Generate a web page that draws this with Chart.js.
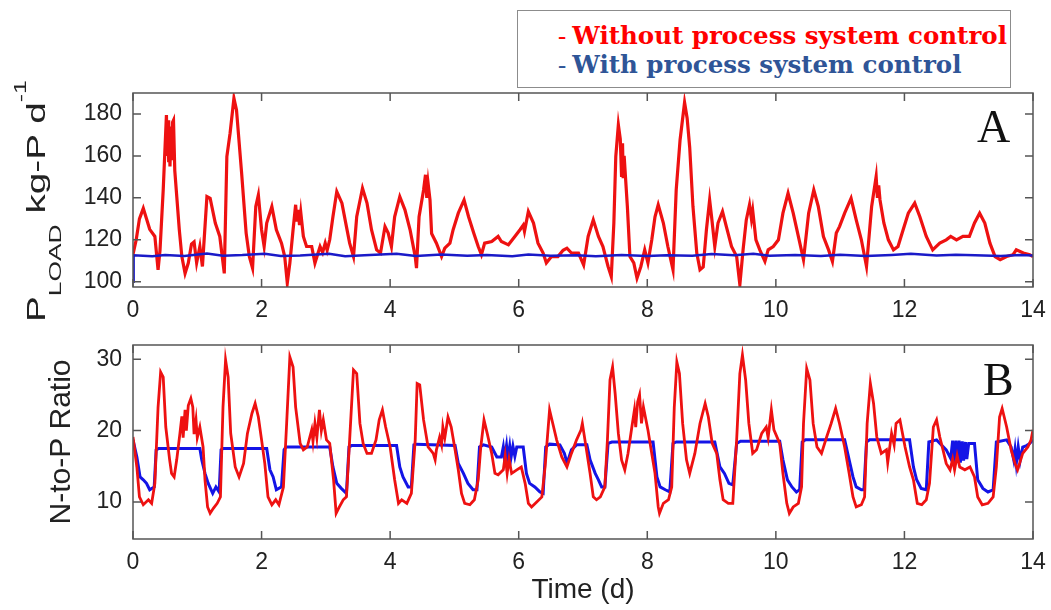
<!DOCTYPE html>
<html>
<head>
<meta charset="utf-8">
<script src="https://cdn.jsdelivr.net/npm/chart.js@4.4.1/dist/chart.umd.min.js"></script>
<style>
    body { margin: 0; background: #fff; }
    #page { position: relative; width: 1051px; height: 610px; overflow: hidden; font-family: "Liberation Sans", Arial, sans-serif; }
    canvas { position: absolute; left: 0; }
    #chartA { top: 80px; }
    #chartB { top: 330px; }
    #legend {
        position: absolute; left: 517px; top: 10px; width: 494px; height: 78px;
        border: 1.5px solid #8c8c8c; background: #fff; z-index: 5;
        font-family: "DejaVu Serif", serif; font-weight: bold; font-size: 24.5px;
        line-height: 28.5px; padding: 11px 0 0 40px; box-sizing: border-box; white-space: nowrap;
    }
    #legend .dash { font-weight: normal; font-family: "Liberation Serif", serif; }
    #legend .red { color: #ff0000; }
    #legend .blue { color: #2f5597; }
    #ylabA {
        position: absolute; left: 21px; top: 322px; white-space: nowrap;
        font-size: 25px; line-height: 30px; color: #222;
        transform-origin: 0 0; transform: rotate(-90deg) scaleX(1.55);
    }
    #ylabA sub { font-size: 17px; vertical-align: baseline; position: relative; top: 16px; }
    #ylabA sup { font-size: 16px; vertical-align: baseline; position: relative; top: -19px; }
    .panelTag { position: absolute; font-family: "Liberation Serif", serif; font-size: 46px; line-height: 46px; color: #111; }
</style>
</head>
<body>
<div id="page">
    <canvas id="chartA" width="1051" height="240"></canvas>
    <canvas id="chartB" width="1051" height="280"></canvas>
    <div id="legend">
        <div class="red"><span class="dash">- </span>Without process system control</div>
        <div class="blue"><span class="dash">- </span>With process system control</div>
    </div>
    <div id="ylabA">P<sub>LOAD</sub> kg-P d<sup>-1</sup></div>
    <div class="panelTag" style="left:977px; top:104px;">A</div>
    <div class="panelTag" style="left:983px; top:357px;">B</div>
</div>

<script>
// 축 눈금
var dayTicks = [0, 2, 4, 6, 8, 10, 12, 14];
var loadTicks = [100, 120, 140, 160, 180];
var ratioTicks = [10, 20, 30];

// A: P 부하 (공정 제어 없음)
var loadDays = [0, 0.05, 0.1, 0.16, 0.21, 0.26, 0.34, 0.39, 0.42, 0.47, 0.52, 0.535, 0.545, 0.555, 0.565, 0.575, 0.59, 0.6, 0.615, 0.63,
    0.65, 0.72, 0.76, 0.81, 0.86, 0.91, 0.95, 0.99, 1.04, 1.08, 1.15, 1.2, 1.28, 1.35, 1.42, 1.46, 1.51, 1.57, 1.61, 1.69,
    1.76, 1.81, 1.86, 1.91, 1.95, 2, 2.04, 2.08, 2.16, 2.23, 2.31, 2.36, 2.4, 2.44, 2.49, 2.53, 2.55, 2.57, 2.59, 2.61,
    2.65, 2.7, 2.78, 2.83, 2.91, 2.95, 2.99, 3.02, 3.06, 3.11, 3.17, 3.25, 3.32, 3.37, 3.43, 3.48, 3.57, 3.64, 3.71, 3.79,
    3.85, 3.92, 3.97, 4.02, 4.07, 4.15, 4.23, 4.31, 4.39, 4.41, 4.45, 4.52, 4.55, 4.57, 4.59, 4.62, 4.645, 4.72, 4.8, 4.85,
    4.93, 4.98, 5.06, 5.15, 5.22, 5.3, 5.37, 5.42, 5.47, 5.58, 5.68, 5.73, 5.84, 5.94, 6.02, 6.07, 6.09, 6.15, 6.23, 6.3,
    6.38, 6.43, 6.51, 6.61, 6.69, 6.75, 6.82, 6.93, 7.01, 7.08, 7.16, 7.24, 7.31, 7.39, 7.44, 7.48, 7.51, 7.55, 7.58, 7.6,
    7.615, 7.625, 7.64, 7.69, 7.73, 7.79, 7.84, 7.9, 7.96, 8.01, 8.07, 8.12, 8.17, 8.25, 8.32, 8.4, 8.45, 8.51, 8.58, 8.62,
    8.66, 8.71, 8.77, 8.82, 8.87, 8.92, 8.97, 9, 9.05, 9.1, 9.17, 9.23, 9.31, 9.39, 9.44, 9.49, 9.54, 9.59, 9.62, 9.64,
    9.69, 9.75, 9.83, 9.88, 9.96, 10.04, 10.11, 10.19, 10.27, 10.35, 10.43, 10.51, 10.59, 10.66, 10.74, 10.82, 10.88, 10.94, 10.99, 11.07,
    11.17, 11.25, 11.33, 11.41, 11.49, 11.56, 11.58, 11.6, 11.62, 11.68, 11.75, 11.83, 11.9, 11.98, 12.06, 12.16, 12.24, 12.34, 12.44, 12.55,
    12.65, 12.72, 12.81, 12.91, 13.01, 13.09, 13.17, 13.25, 13.33, 13.41, 13.49, 13.59, 13.69, 13.74, 13.85, 13.95, 14];
var loadWithout = [113, 120, 130, 135, 130, 125, 121.6, 105.7, 115, 143.8, 179.5, 160, 177, 157, 174, 155, 170, 158, 176, 177,
    153, 124.8, 112, 104, 108.9, 118, 119, 109, 116.8, 107.3, 140.6, 139.8, 128, 121.6, 104, 159.7, 170.8, 187.5, 181.9, 151.7,
    123.2, 112, 106.5, 135.9, 141.4, 124.8, 116.8, 128, 135.9, 124.8, 118.4, 112, 99.4, 108.9, 124.8, 136.7, 128.7, 134.3, 127, 133,
    121.6, 116.8, 116.8, 108.9, 116.8, 114, 118.4, 115, 120, 131, 143, 137.5, 126.3, 118.4, 112, 131, 144.6, 137.5, 124.8, 115.2,
    113.7, 126.3, 123.2, 116.8, 131, 140.6, 134.3, 124.8, 112, 106.5, 131, 143.8, 151, 140, 147, 139, 123, 118.4, 112, 116,
    118.4, 124.8, 132.7, 139, 131, 123.2, 116.8, 112.9, 118.4, 119.2, 121.6, 119.2, 117.6, 121.6, 124.8, 127, 124, 133.5, 128, 118.4,
    113.7, 109, 112, 112, 115, 116, 113.7, 113.7, 108, 121.6, 129.5, 121.6, 116.8, 107.3, 102.5, 128, 159.7, 174.8, 168, 150,
    166, 149.4, 160, 135.9, 112, 109, 101.7, 107.3, 115.2, 109, 120, 131, 136.7, 128, 116.8, 105.7, 143.8, 167.6, 185.5, 178,
    164, 136, 113.7, 105.7, 107, 124.8, 139, 131, 116.8, 128, 133.5, 126.3, 116.8, 112, 98.6, 115.2, 129.5, 136.7, 130, 134,
    120, 115.2, 109.7, 115.2, 116.8, 120, 132.7, 142.2, 132.7, 121.6, 110.5, 132.7, 143.8, 135.9, 121.6, 115.2, 109.7, 123.2, 126.3, 132.7,
    139.8, 129.5, 120, 107.3, 135.9, 150.2, 140, 146, 139, 128, 120, 115.2, 116.8, 124.8, 132.7, 137.5, 131, 121.6, 115.2, 118.4,
    120, 121.6, 120, 121.6, 121.6, 128, 132.7, 128, 118.4, 112, 110.5, 112, 112.9, 115.2, 113.7, 112.9, 112];

// A: P 부하 (공정 제어 적용)
var loadDaysCtl = [0, 0.01, 0.3, 0.5, 0.8, 1.15, 1.4, 1.7, 2.05, 2.3, 2.6, 3.05, 3.3, 3.6, 4.1, 4.4, 4.8, 5.2, 5.5, 5.9,
    6.15, 6.5, 6.9, 7.2, 7.6, 8, 8.3, 8.7, 9, 9.35, 9.65, 9.9, 10.3, 10.7, 11, 11.4, 11.8, 12.1, 12.5, 12.8, 13.1, 13.5, 13.8, 14];
var loadWith = [100, 112.6, 112.2, 112.8, 112.3, 113.5, 112.4, 112.7, 113.4, 112.3, 112.5, 113.3, 112.2, 112.6, 113.3, 112.3, 113, 112.4, 112.8, 112.2,
    113, 112.4, 112.6, 112.2, 112.7, 112.3, 112.6, 112.4, 113.2, 112.6, 113.4, 112.4, 112.8, 112.3, 112.9, 112.3, 112.8, 113.3, 112.5, 112.9, 112.6, 112.3, 112.8, 112.5];

// B: N/P 비 (공정 제어 없음)
var ratioDays = [0, 0.06, 0.1, 0.16, 0.24, 0.29, 0.34, 0.39, 0.43, 0.47, 0.51, 0.57, 0.6, 0.64, 0.68, 0.73, 0.76, 0.78, 0.81, 0.83,
    0.86, 0.9, 0.93, 0.95, 0.98, 1, 1.04, 1.09, 1.12, 1.16, 1.2, 1.25, 1.31, 1.36, 1.4, 1.44, 1.48, 1.52, 1.59, 1.65,
    1.72, 1.78, 1.85, 1.9, 1.95, 2, 2.05, 2.1, 2.16, 2.22, 2.27, 2.34, 2.39, 2.44, 2.49, 2.53, 2.6, 2.65, 2.71, 2.78,
    2.8, 2.83, 2.86, 2.9, 2.93, 2.96, 3.01, 3.06, 3.12, 3.16, 3.21, 3.27, 3.32, 3.37, 3.43, 3.48, 3.53, 3.58, 3.64, 3.71,
    3.78, 3.83, 3.88, 3.93, 4, 4.07, 4.13, 4.18, 4.26, 4.33, 4.39, 4.42, 4.46, 4.52, 4.59, 4.67, 4.7, 4.72, 4.77, 4.8,
    4.82, 4.85, 4.9, 4.95, 5.01, 5.06, 5.11, 5.16, 5.24, 5.31, 5.37, 5.41, 5.46, 5.51, 5.58, 5.63, 5.68, 5.76, 5.79, 5.82,
    5.85, 5.89, 5.97, 6.04, 6.1, 6.15, 6.2, 6.28, 6.36, 6.41, 6.48, 6.53, 6.59, 6.67, 6.75, 6.82, 6.9, 6.97, 6.99, 7.03,
    7.11, 7.16, 7.21, 7.27, 7.34, 7.38, 7.42, 7.46, 7.5, 7.55, 7.6, 7.65, 7.7, 7.76, 7.8, 7.82, 7.85, 7.88, 7.91, 7.94,
    8.01, 8.06, 8.12, 8.17, 8.19, 8.25, 8.33, 8.38, 8.42, 8.46, 8.5, 8.55, 8.61, 8.66, 8.74, 8.82, 8.9, 8.95, 9.01, 9.08,
    9.13, 9.18, 9.26, 9.33, 9.39, 9.44, 9.48, 9.53, 9.58, 9.64, 9.7, 9.78, 9.85, 9.88, 9.93, 9.97, 10.06, 10.11, 10.17, 10.21,
    10.27, 10.35, 10.4, 10.43, 10.48, 10.53, 10.58, 10.64, 10.71, 10.79, 10.86, 10.93, 10.99, 11.07, 11.14, 11.2, 11.25, 11.33, 11.38, 11.42,
    11.47, 11.52, 11.57, 11.64, 11.72, 11.74, 11.8, 11.84, 11.87, 11.93, 12.01, 12.08, 12.14, 12.2, 12.27, 12.34, 12.39, 12.45, 12.5, 12.55,
    12.6, 12.65, 12.71, 12.75, 12.78, 12.82, 12.86, 12.94, 13.02, 13.09, 13.14, 13.21, 13.3, 13.38, 13.43, 13.48, 13.52, 13.59, 13.66, 13.72,
    13.76, 13.84, 13.92, 13.97, 14];
var ratioWithout = [19.1, 14.9, 10.7, 9.6, 10.3, 9.8, 12.6, 23.3, 28.2, 27.5, 20.5, 15.9, 14, 13.5, 15.9, 19.6, 22, 19, 22.9, 20,
    23.5, 24.5, 23.3, 19.5, 21.5, 19, 20.5, 17.7, 13.1, 9.3, 8.4, 9.1, 9.8, 10.7, 23.3, 29.9, 27.5, 19.6, 14.9, 13.5,
    15.4, 19.6, 22.4, 23.8, 21.9, 18.7, 15.4, 10.7, 9.6, 10.3, 9.6, 12.1, 21, 30.3, 28.9, 23.3, 18.2, 17.3, 17.7, 20.1,
    18.5, 21, 19, 22.9, 20, 21.5, 18.7, 18.2, 13.1, 8.4, 9.3, 10.3, 10.7, 18.7, 28.5, 28, 21, 18.2, 16.8, 16.8,
    18.7, 21.5, 22.9, 20.5, 17.7, 13.1, 9.8, 10.3, 9.8, 11.2, 18.7, 26.6, 26.4, 21.5, 17.7, 16.8, 15.9, 17.3, 19.1, 18,
    20.5, 19, 21.9, 20.5, 17.3, 14.5, 11.2, 9.8, 9.6, 10.3, 13.1, 17.7, 21.5, 19.6, 16.8, 14, 13.8, 14.5, 16.5, 14,
    16, 14, 14.5, 14.9, 12.6, 9.8, 9.3, 10, 10.7, 14.9, 22.9, 21, 18.7, 16.3, 14.9, 16.8, 18.7, 20.1, 21, 18.7,
    14, 10.7, 10.3, 10.7, 12.1, 18.7, 27.1, 28.9, 25.2, 19.6, 15.9, 14.5, 16.8, 20.5, 22.9, 20.5, 24, 25, 21, 23.3,
    20.1, 17.3, 14, 9.3, 8.4, 9.8, 10.3, 12.1, 23.3, 29.6, 28, 21, 15.9, 14, 16.8, 21, 23.8, 21.9, 18.2, 16.8,
    13.1, 10.3, 9.8, 9.8, 18.7, 28, 30.6, 27.1, 21, 16.8, 17.3, 19.6, 20.5, 19, 22.9, 20.1, 18.2, 14, 9.8, 8.4,
    9.3, 9.8, 12.1, 21, 28.7, 27.1, 21, 17.7, 16.8, 19.1, 21, 23.1, 21, 17.7, 14, 10.7, 9.3, 9.6, 10.7, 21,
    26.6, 23.8, 19.1, 16.8, 17.3, 15.5, 19.6, 18, 21, 21.5, 17.7, 14.9, 13.1, 9.8, 9.6, 10.3, 12.6, 20.5, 21.5, 19.1,
    17.3, 15.4, 14.5, 16, 14.5, 16.5, 14.9, 14.5, 14.9, 13.5, 10.7, 9.6, 9.8, 10.7, 14.9, 21.9, 23.1, 20.5, 17.3, 15.4,
    14.5, 16.8, 17.7, 18.7, 20.1];

// B: N/P 비 (공정 제어 적용)
var ratioDaysCtl = [0, 0.06, 0.11, 0.16, 0.21, 0.26, 0.33, 0.36, 0.4, 1.04, 1.07, 1.12, 1.17, 1.24, 1.29, 1.34, 1.37, 1.4, 2.08, 2.13,
    2.18, 2.23, 2.31, 2.35, 2.38, 3.06, 3.11, 3.17, 3.24, 3.32, 3.36, 3.4, 4.1, 4.15, 4.2, 4.28, 4.33, 4.37, 4.4, 5.01,
    5.06, 5.14, 5.21, 5.29, 5.35, 5.39, 5.45, 5.58, 5.66, 5.73, 5.76, 5.78, 5.81, 5.83, 5.86, 5.88, 5.91, 5.94, 5.97, 6.07,
    6.12, 6.17, 6.25, 6.33, 6.38, 6.42, 6.48, 6.64, 6.71, 6.75, 6.77, 6.82, 6.9, 7.06, 7.11, 7.19, 7.24, 7.29, 7.34, 7.39,
    7.45, 8.09, 8.15, 8.2, 8.28, 8.35, 8.4, 8.45, 9.05, 9.13, 9.2, 9.27, 9.33, 9.39, 9.45, 10.06, 10.11, 10.18, 10.25, 10.32,
    10.37, 10.41, 10.46, 11.07, 11.14, 11.2, 11.25, 11.33, 11.37, 11.41, 11.46, 12.08, 12.14, 12.19, 12.26, 12.34, 12.38, 12.5, 12.65, 12.72,
    12.75, 12.77, 12.8, 12.82, 12.85, 12.87, 12.9, 12.92, 12.95, 12.97, 13, 13.09, 13.14, 13.22, 13.3, 13.38, 13.43, 13.59, 13.66, 13.7,
    13.72, 13.74, 13.77, 13.8, 13.84, 13.9, 13.95, 14];
var ratioWith = [18.7, 16.3, 13.5, 13.1, 12.6, 11.7, 12.1, 17.3, 17.5, 17.5, 15.9, 14, 12.6, 11.2, 12.1, 11.4, 17.3, 17.5, 17.5, 14.5,
    13.5, 11.7, 12.1, 17.3, 17.7, 17.7, 14.9, 12.6, 11.9, 11.2, 17.7, 17.9, 17.9, 14.9, 13.5, 12.1, 12.1, 18, 18.1, 17.9,
    15.4, 14, 12.6, 11.7, 11.7, 17.7, 18, 17.7, 16.3, 16.3, 17.7, 16.1, 17.9, 16, 17.8, 16.2, 17.8, 16.4, 17.7, 17.7,
    14, 12.6, 12.1, 11.4, 11.2, 17.7, 18.1, 18, 16.8, 15.5, 15.9, 17.3, 18, 18, 15.9, 14, 13.1, 12.1, 12.1, 18.2,
    18.4, 18.4, 13.5, 12.1, 11.7, 11.4, 18.2, 18.4, 18.4, 14.9, 14, 12.6, 12.4, 18.2, 18.5, 18.5, 15.9, 13.1, 12.1, 11.4,
    11.7, 18.4, 18.7, 18.7, 15.9, 13.5, 12.1, 11.7, 11.7, 18.4, 18.7, 18.7, 14.9, 13.1, 11.9, 11.7, 18.4, 18.7, 17.3, 16.1,
    18.6, 15.4, 18.6, 15.6, 18.6, 15.5, 18.5, 15.8, 18.4, 16, 18.2, 18.2, 13.1, 11.9, 11.4, 11.7, 18.4, 18.7, 17.7, 15.9,
    17.3, 15.4, 17.7, 15.8, 17.7, 17.9, 18.2, 18.7];

var RED = '#ee1111';
var BLUE = '#1414e6';
var NAVY = '#1a1ac8';

function toPoints(xs, ys) {
    return xs.map(function (x, i) { return { x: x, y: ys[i] }; });
}

// 안쪽 눈금 + 테두리 (MATLAB 스타일)
var boxTicks = {
    id: 'boxTicks',
    afterDraw: function (chart) {
        var ctx = chart.ctx, a = chart.chartArea, sx = chart.scales.x, sy = chart.scales.y;
        ctx.save();
        ctx.strokeStyle = '#555';
        ctx.lineWidth = 1.5;
        ctx.beginPath();
        sx.ticks.forEach(function (t) {
            var px = sx.getPixelForValue(t.value);
            ctx.moveTo(px, a.bottom); ctx.lineTo(px, a.bottom - 8);
            ctx.moveTo(px, a.top); ctx.lineTo(px, a.top + 8);
        });
        sy.ticks.forEach(function (t) {
            var py = sy.getPixelForValue(t.value);
            ctx.moveTo(a.left, py); ctx.lineTo(a.left + 8, py);
            ctx.moveTo(a.right, py); ctx.lineTo(a.right - 8, py);
        });
        ctx.stroke();
        ctx.strokeRect(a.left, a.top, a.right - a.left, a.bottom - a.top);
        ctx.restore();
    }
};

function makeChart(id, sets, yMin, yMax, yTicks, opts) {
    var ctx = document.getElementById(id).getContext('2d');
    return new Chart(ctx, {
        type: 'line',
        data: { datasets: sets },
        options: {
            responsive: false,
            animation: false,
            devicePixelRatio: 1,
            layout: { padding: { top: opts.padTop, right: 18, left: 0, bottom: 0 } },
            plugins: { legend: { display: false }, tooltip: { enabled: false } },
            elements: { point: { radius: 0 }, line: { tension: 0 } },
            scales: {
                x: {
                    type: 'linear', min: 0, max: 14,
                    afterBuildTicks: function (s) { s.ticks = dayTicks.map(function (v) { return { value: v }; }); },
                    afterFit: function (s) { s.height = opts.xHeight; s.paddingLeft = 0; s.paddingRight = 0; },
                    grid: { display: false, drawTicks: false },
                    border: { display: false },
                    ticks: { padding: 10, color: '#222', font: { family: 'Liberation Sans', size: 23 }, maxRotation: 0 },
                    title: opts.xTitle
                },
                y: {
                    type: 'linear', min: yMin, max: yMax,
                    afterBuildTicks: function (s) { s.ticks = yTicks.map(function (v) { return { value: v }; }); },
                    afterFit: function (s) { s.width = 133; s.paddingTop = 0; s.paddingBottom = 0; },
                    grid: { display: false, drawTicks: false },
                    border: { display: false },
                    ticks: { padding: 11, color: '#222', font: { family: 'Liberation Sans', size: 23 } },
                    title: opts.yTitle
                }
            }
        },
        plugins: [boxTicks]
    });
}

var chartA = makeChart('chartA', [
    { data: toPoints(loadDaysCtl, loadWith), borderColor: NAVY, borderWidth: 2.5 },
    { data: toPoints(loadDays, loadWithout), borderColor: RED, borderWidth: 3.2 }
], 97.5, 190, loadTicks, {
    padTop: 13, xHeight: 33,
    xTitle: { display: false },
    yTitle: { display: false }
});

var chartB = makeChart('chartB', [
    { data: toPoints(ratioDays, ratioWithout), borderColor: RED, borderWidth: 2.8 },
    { data: toPoints(ratioDaysCtl, ratioWith), borderColor: BLUE, borderWidth: 3 }
], 4.8, 32, ratioTicks, {
    padTop: 15, xHeight: 71,
    xTitle: { display: true, text: 'Time (d)', color: '#222', font: { family: 'Liberation Sans', size: 28 }, padding: { top: 0, bottom: 3 } },
    yTitle: { display: true, text: 'N-to-P Ratio', color: '#222', font: { family: 'Liberation Sans', size: 30 }, padding: { top: 44, bottom: 0 } }
});
</script>
</body>
</html>
